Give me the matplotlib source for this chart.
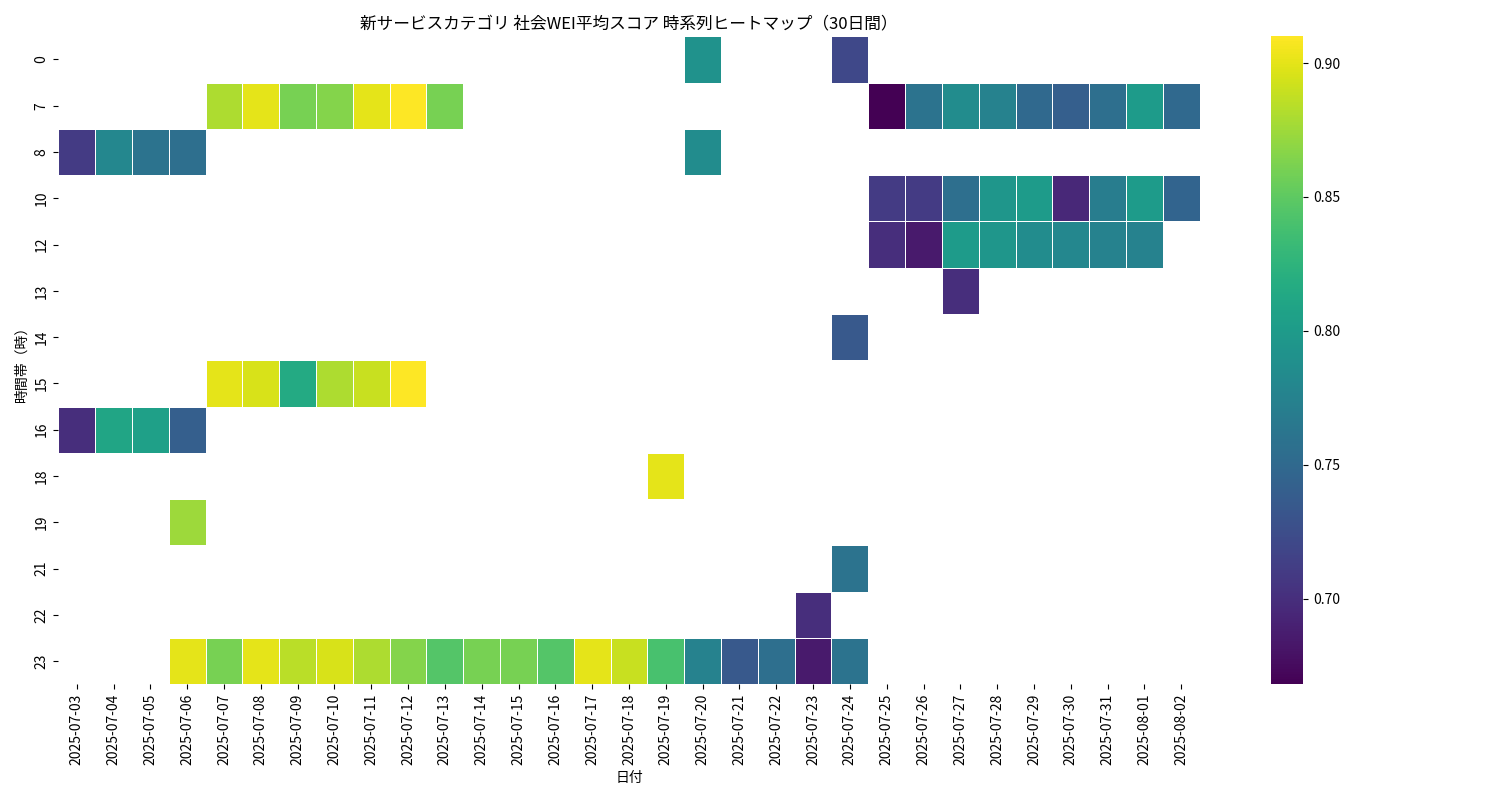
import numpy as np
import pandas as pd
import matplotlib
matplotlib.use("Agg")
import matplotlib.pyplot as plt
import seaborn as sns

plt.rcParams["font.family"] = "Noto Sans CJK JP"

dates = [d.strftime("%Y-%m-%d") for d in pd.date_range("2025-07-03", "2025-08-02")]
hours = [0, 7, 8, 10, 12, 13, 14, 15, 16, 18, 19, 21, 22, 23]

# (hour, date index) -> score
cells = {
    0: {17: 0.79, 21: 0.72},
    7: {4: 0.88, 5: 0.90, 6: 0.86, 7: 0.865, 8: 0.90, 9: 0.91, 10: 0.86,
        22: 0.668, 23: 0.76, 24: 0.785, 25: 0.775, 26: 0.75, 27: 0.74,
        28: 0.755, 29: 0.80, 30: 0.75},
    8: {0: 0.71, 1: 0.78, 2: 0.76, 3: 0.755, 17: 0.785},
    10: {22: 0.71, 23: 0.71, 24: 0.755, 25: 0.795, 26: 0.80, 27: 0.695,
         28: 0.77, 29: 0.80, 30: 0.745},
    12: {22: 0.70, 23: 0.685, 24: 0.80, 25: 0.795, 26: 0.785, 27: 0.78,
         28: 0.775, 29: 0.775},
    13: {24: 0.70},
    14: {21: 0.735},
    15: {4: 0.90, 5: 0.895, 6: 0.815, 7: 0.88, 8: 0.89, 9: 0.91},
    16: {0: 0.70, 1: 0.81, 2: 0.805, 3: 0.74},
    18: {16: 0.90},
    19: {3: 0.875},
    21: {21: 0.76},
    22: {20: 0.70},
    23: {3: 0.90, 4: 0.86, 5: 0.90, 6: 0.885, 7: 0.895, 8: 0.88, 9: 0.865,
         10: 0.845, 11: 0.86, 12: 0.86, 13: 0.845, 14: 0.90, 15: 0.89,
         16: 0.84, 17: 0.775, 18: 0.735, 19: 0.755, 20: 0.685, 21: 0.76},
}

grid = np.full((len(hours), len(dates)), np.nan)
for i, h in enumerate(hours):
    for j, v in cells[h].items():
        grid[i, j] = v
df = pd.DataFrame(grid, index=hours, columns=dates)

fig, ax = plt.subplots(figsize=(15, 8), dpi=100)
sns.heatmap(df, cmap="viridis", linewidths=0.5, linecolor="white", ax=ax)
ax.set_title("新サービスカテゴリ 社会WEI平均スコア 時系列ヒートマップ（30日間）")
ax.set_xlabel("日付")
ax.set_ylabel("時間帯（時）")
plt.tight_layout()
plt.savefig("out.png")
